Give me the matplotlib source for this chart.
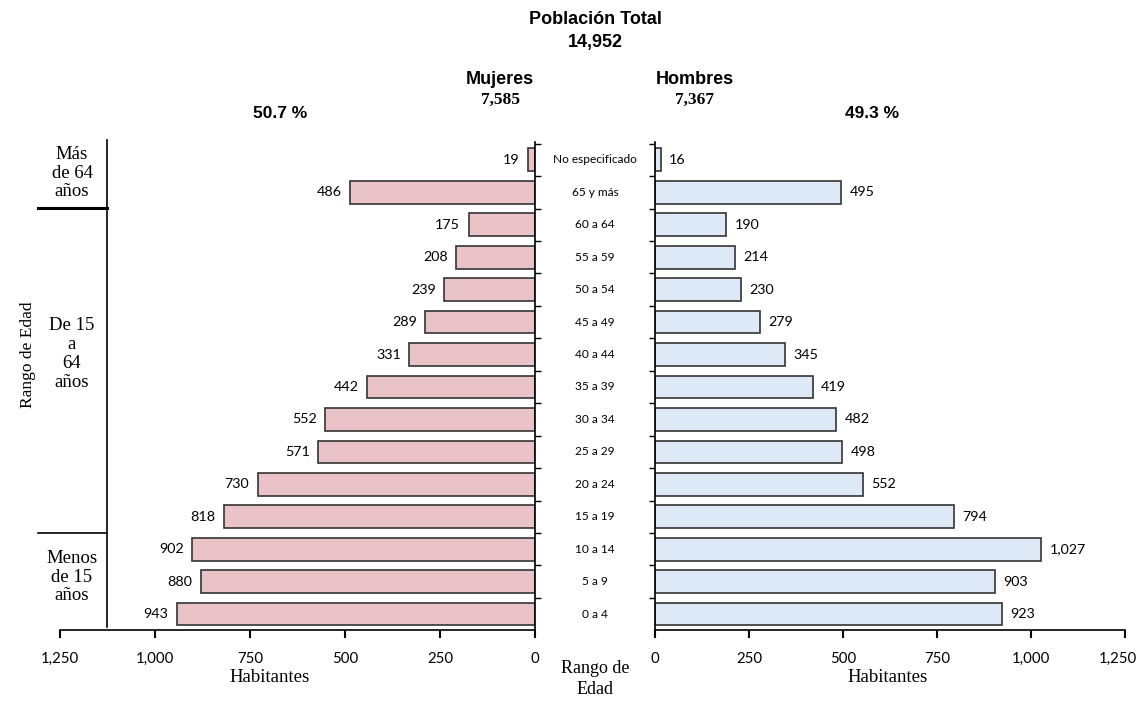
import matplotlib
matplotlib.use("Agg")
import matplotlib.pyplot as plt
import matplotlib.transforms as mtransforms
from matplotlib.ticker import FuncFormatter, FixedLocator

categories = ["0 a 4", "5 a 9", "10 a 14", "15 a 19", "20 a 24", "25 a 29", "30 a 34",
              "35 a 39", "40 a 44", "45 a 49", "50 a 54", "55 a 59", "60 a 64",
              "65 y más", "No especificado"]
mujeres = [943, 880, 902, 818, 730, 571, 552, 442, 331, 289, 239, 208, 175, 486, 19]
hombres = [923, 903, 1027, 794, 552, 498, 482, 419, 345, 279, 230, 214, 190, 495, 16]
xticks = [0, 250, 500, 750, 1000, 1250]

W, H = 1140, 701
fig = plt.figure(figsize=(W / 100, H / 100), dpi=100)

def ax_rect(x0, x1, ytop, ybot):
    return [x0 / W, 1 - ybot / H, (x1 - x0) / W, (ybot - ytop) / H]

pink = "#E9C3C8"
blue = "#DDE9F6"
edge = "#333333"
num_font = ["Lato", "DejaVu Sans"]
serif = ["Liberation Serif", "DejaVu Serif"]
sans_b = ["Liberation Sans Narrow", "Liberation Sans", "DejaVu Sans"]

n = len(categories)
pos = list(range(n))
TOP, BOT = 142, 630
ylim = (-0.49, n - 1 + 0.55)
fmt = FuncFormatter(lambda v, p: f"{int(v):,}")

# Left (Mujeres)
axL = fig.add_axes(ax_rect(60, 535, TOP, BOT))
axL.barh(pos, mujeres, height=0.7, color=pink, edgecolor=edge, linewidth=1.2)
axL.set_xlim(1250, 0)
axL.set_ylim(*ylim)
for p, v in zip(pos, mujeres):
    axL.text(v + 22, p, f"{v:,}", ha="right", va="center", fontsize=10.3, family=num_font)
# Right (Hombres)
axR = fig.add_axes(ax_rect(655, 1125, TOP, BOT))
axR.barh(pos, hombres, height=0.7, color=blue, edgecolor=edge, linewidth=1.2)
axR.set_xlim(0, 1250)
axR.set_ylim(*ylim)
for p, v in zip(pos, hombres):
    axR.text(v + 22, p, f"{v:,}", ha="left", va="center", fontsize=10.3, family=num_font)

for ax, inner in ((axL, "right"), (axR, "left")):
    for s in ax.spines.values():
        s.set_visible(False)
    ax.spines["bottom"].set_visible(True)
    ax.spines[inner].set_visible(True)
    ax.spines["bottom"].set_linewidth(1.2)
    ax.spines[inner].set_linewidth(1.2)
    ax.xaxis.set_major_locator(FixedLocator(xticks))
    ax.xaxis.set_major_formatter(fmt)
    ax.tick_params(axis="x", length=6, width=1.5, pad=10, labelsize=10.8)
    for lab in ax.get_xticklabels():
        lab.set_family(num_font)
    ax.yaxis.set_major_locator(FixedLocator([p - 0.5 for p in pos] + [n - 0.5]))
    ax.yaxis.set_ticklabels([])
    ax.tick_params(axis="y", length=4, width=1, left=(inner == "left"), right=(inner == "right"))

# keep the last right tick label inside the canvas
last = axR.xaxis.get_major_ticks()[-1].label1
last.set_transform(last.get_transform() +
                   mtransforms.ScaledTranslation(-5 / 72, 0, fig.dpi_scale_trans))

# Centre category labels (placed on the bars' y scale)
for p, c in zip(pos, categories):
    x_fig = 595 / W
    y_disp = axR.transData.transform((0, p))[1]
    y_fig = fig.transFigure.inverted().transform((0, y_disp))[1]
    fig.text(x_fig, y_fig, c, ha="center", va="center", fontsize=8.6, family=num_font)

# Header texts
fig.text(595 / W, 1 - 20 / H, "Población Total", ha="center", va="center", fontsize=13,
         fontweight="bold", family=sans_b)
fig.text(595 / W, 1 - 43 / H, "14,952", ha="center", va="center", fontsize=13,
         fontweight="bold", family=sans_b)
fig.text(500 / W, 1 - 80 / H, "Mujeres", ha="center", va="center", fontsize=13,
         fontweight="bold", family=sans_b)
fig.text(500 / W, 1 - 100 / H, "7,585", ha="center", va="center", fontsize=12.5,
         fontweight="bold", family=serif)
fig.text(695 / W, 1 - 80 / H, "Hombres", ha="center", va="center", fontsize=13,
         fontweight="bold", family=sans_b)
fig.text(695 / W, 1 - 100 / H, "7,367", ha="center", va="center", fontsize=12.5,
         fontweight="bold", family=serif)
fig.text(280 / W, 1 - 113 / H, "50.7 %", ha="center", va="center", fontsize=12.5,
         fontweight="bold", family=sans_b)
fig.text(872 / W, 1 - 113 / H, "49.3 %", ha="center", va="center", fontsize=12.5,
         fontweight="bold", family=sans_b)

# Axis titles
fig.text(270 / W, 1 - 678 / H, "Habitantes", ha="center", va="center", fontsize=13.5, family=serif)
fig.text(888 / W, 1 - 678 / H, "Habitantes", ha="center", va="center", fontsize=13.5, family=serif)
fig.text(595 / W, 1 - 679 / H, "Rango de\nEdad", ha="center", va="center", fontsize=13,
         family=serif, linespacing=1.25)

# Group annotation on the left
axG = fig.add_axes([0, 0, 1, 1], facecolor="none")
axG.set_xlim(0, W)
axG.set_ylim(H, 0)
axG.axis("off")
axG.plot([107, 107], [140, 627], color="black", lw=1.2)
axG.plot([38, 107], [208, 208], color="black", lw=2.2)
axG.plot([38, 107], [533, 533], color="black", lw=1.2)
axG.text(72, 173, "Más\nde 64\naños", ha="center", va="center", fontsize=13.5, family=serif,
         linespacing=1.15)
axG.text(72, 354, "De 15\na\n64\naños", ha="center", va="center", fontsize=13.5, family=serif,
         linespacing=1.15)
axG.text(72, 577, "Menos\nde 15\naños", ha="center", va="center", fontsize=13.5, family=serif,
         linespacing=1.15)
axG.text(28, 355, "Rango de Edad", ha="center", va="center", rotation=90, fontsize=12.5,
         family=serif)

fig.savefig("out.png", dpi=100)
